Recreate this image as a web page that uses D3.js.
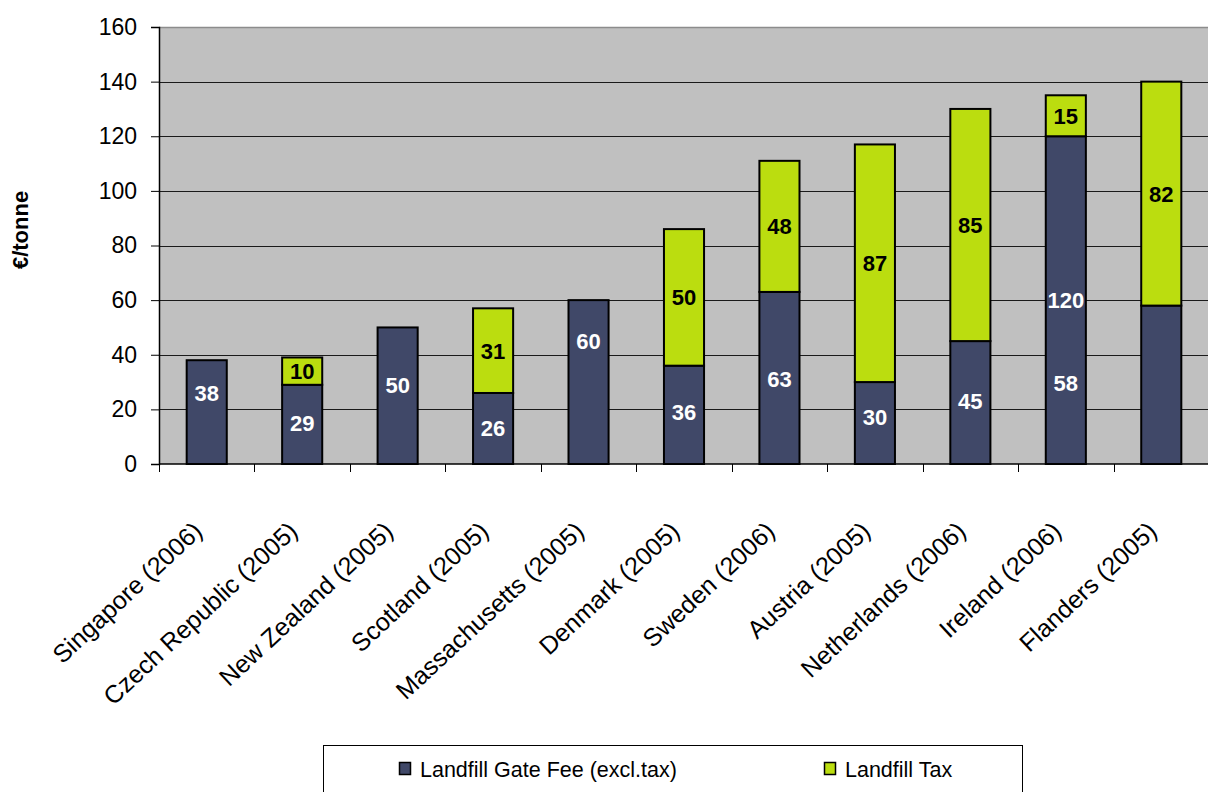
<!DOCTYPE html>
<html>
<head>
<meta charset="utf-8">
<script src="https://cdn.jsdelivr.net/npm/d3@7"></script>
<style>
  body { margin: 0; background: #fff; }
  svg { display: block; font-family: "Liberation Sans", Arial, sans-serif; }
</style>
</head>
<body>
<div id="chart"></div>
<script>
// categories and values
var categories = ["Singapore (2006)", "Czech Republic (2005)", "New Zealand (2005)",
  "Scotland (2005)", "Massachusetts (2005)", "Denmark (2005)", "Sweden (2006)",
  "Austria  (2005)", "Netherlands (2006)", "Ireland (2006)", "Flanders (2005)"];
var gateFee = [38, 29, 50, 26, 60, 36, 63, 30, 45, 120, 58];
var landfillTax = [0, 10, 0, 31, 0, 50, 48, 87, 85, 15, 82];
// the original's gate-fee labels sit a bit off; value level and column they sit at
var feeLabelAt = [26, 15, 29, 13, 45, 19, 31, 17, 23, 60, 29.7];
var feeLabelCol = categories.slice(0, 10).concat(["Ireland (2006)"]);
var yTicks = [0, 20, 40, 60, 80, 100, 120, 140, 160];
var seriesNames = ["Landfill Gate Fee (excl.tax)", "Landfill Tax"];
var colors = ["#404868", "#bbdd0f"];

var width = 1208,
    height = 792;
var plotL = 159, plotR = 1209, plotT = 27, plotB = 464;

var svg = d3.select("#chart").append("svg")
    .attr("width", width)
    .attr("height", height);

var x = d3.scaleBand()
    .domain(categories)
    .range([plotL, plotR])
    .paddingInner(0.58)
    .paddingOuter(0.29);

var y = d3.scaleLinear()
    .domain([0, 160])
    .range([plotB, plotT]);

// plot area
svg.append("rect")
    .attr("x", plotL)
    .attr("y", plotT)
    .attr("width", plotR - plotL)
    .attr("height", plotB - plotT)
    .attr("fill", "#c0c0c0");

svg.append("line")
    .attr("x1", plotL).attr("x2", plotR)
    .attr("y1", plotT + 0.5).attr("y2", plotT + 0.5)
    .attr("stroke", "#8c8c8c")
    .attr("stroke-width", 1.5);

svg.selectAll(".grid")
    .data(yTicks.filter(function(d) { return d > 0 && d < 160; }))
    .enter().append("line")
    .attr("class", "grid")
    .attr("x1", plotL).attr("x2", plotR)
    .attr("y1", function(d) { return Math.round(y(d)) + 0.5; })
    .attr("y2", function(d) { return Math.round(y(d)) + 0.5; })
    .attr("stroke", "#1a1a1a")
    .attr("stroke-width", 1);

// stacked bars
var stackData = categories.map(function(c, i) {
  return { cat: c, fee: gateFee[i], tax: landfillTax[i] };
});
var stacked = d3.stack().keys(["fee", "tax"])(stackData);

svg.selectAll(".series")
    .data(stacked)
    .enter().append("g")
    .attr("class", "series")
    .attr("fill", function(d, i) { return colors[i]; })
    .selectAll("rect")
    .data(function(d) { return d.filter(function(s) { return s[1] > s[0]; }); })
    .enter().append("rect")
    .attr("x", function(d) { return x(d.data.cat); })
    .attr("y", function(d) { return y(d[1]); })
    .attr("width", x.bandwidth())
    .attr("height", function(d) { return y(d[0]) - y(d[1]); })
    .attr("stroke", "#000")
    .attr("stroke-width", 2);

// axes
var yAxis = svg.append("g")
    .attr("transform", "translate(" + plotL + ",0)")
    .call(d3.axisLeft(y).tickValues(yTicks).tickSize(8).tickPadding(14));
yAxis.select(".domain").attr("stroke", "#000").attr("stroke-width", 1.5);
yAxis.selectAll(".tick line").attr("stroke", "#000");
yAxis.selectAll(".tick text")
    .attr("font-size", 23)
    .attr("font-family", "Liberation Sans, Arial, sans-serif")
    .attr("fill", "#000");

var xAxis = svg.append("g")
    .attr("transform", "translate(0," + plotB + ")");
xAxis.append("line")
    .attr("x1", plotL).attr("x2", plotR)
    .attr("stroke", "#000")
    .attr("stroke-width", 1.5);
xAxis.selectAll(".xtick")
    .data(categories)
    .enter().append("line")
    .attr("class", "xtick")
    .attr("x1", function(d) { return Math.round(x(d) - x.step() * 0.29) + 0.5; })
    .attr("x2", function(d) { return Math.round(x(d) - x.step() * 0.29) + 0.5; })
    .attr("y1", 0).attr("y2", 8)
    .attr("stroke", "#000");

xAxis.selectAll(".xlabel")
    .data(categories)
    .enter().append("text")
    .attr("class", "xlabel")
    .attr("transform", function(d) {
      return "translate(" + (x(d) + x.bandwidth() / 2 - 3) + ",69) rotate(-43)";
    })
    .attr("text-anchor", "end")
    .attr("font-size", 25)
    .attr("fill", "#000")
    .text(function(d) { return d; });

// data labels
svg.selectAll(".feeLabel")
    .data(gateFee)
    .enter().append("text")
    .attr("class", "feeLabel")
    .attr("x", function(d, i) { return x(feeLabelCol[i]) + x.bandwidth() / 2; })
    .attr("y", function(d, i) { return y(feeLabelAt[i]); })
    .attr("dy", "0.36em")
    .attr("text-anchor", "middle")
    .attr("font-size", 22)
    .attr("font-weight", "bold")
    .attr("fill", "#fff")
    .text(function(d) { return d; });

svg.selectAll(".taxLabel")
    .data(stackData.filter(function(d) { return d.tax > 0; }))
    .enter().append("text")
    .attr("class", "taxLabel")
    .attr("x", function(d) { return x(d.cat) + x.bandwidth() / 2; })
    .attr("y", function(d) { return y(d.fee + d.tax / 2); })
    .attr("dy", "0.36em")
    .attr("text-anchor", "middle")
    .attr("font-size", 22)
    .attr("font-weight", "bold")
    .attr("fill", "#000")
    .text(function(d) { return d.tax; });

// y title
svg.append("text")
    .attr("transform", "translate(20,230) rotate(-90)")
    .attr("text-anchor", "middle")
    .attr("dy", "0.36em")
    .attr("font-size", 22)
    .attr("font-weight", "bold")
    .text("€/tonne");

// legend
var legend = svg.append("g");
legend.append("rect")
    .attr("x", 323.5)
    .attr("y", 745.5)
    .attr("width", 699)
    .attr("height", 60)
    .attr("fill", "#fff")
    .attr("stroke", "#000");

var legendX = [399, 824];
var item = legend.selectAll(".item")
    .data(seriesNames)
    .enter().append("g")
    .attr("class", "item")
    .attr("transform", function(d, i) { return "translate(" + legendX[i] + ",768)"; });
item.append("rect")
    .attr("x", 0.5).attr("y", -5.5)
    .attr("width", 11).attr("height", 12)
    .attr("fill", function(d, i) { return colors[i]; })
    .attr("stroke", "#000")
    .attr("stroke-width", 1.5);
item.append("text")
    .attr("x", 21)
    .attr("y", 1)
    .attr("dy", "0.36em")
    .attr("font-size", 21.5)
    .attr("fill", "#000")
    .text(function(d) { return d; });
</script>
</body>
</html>
